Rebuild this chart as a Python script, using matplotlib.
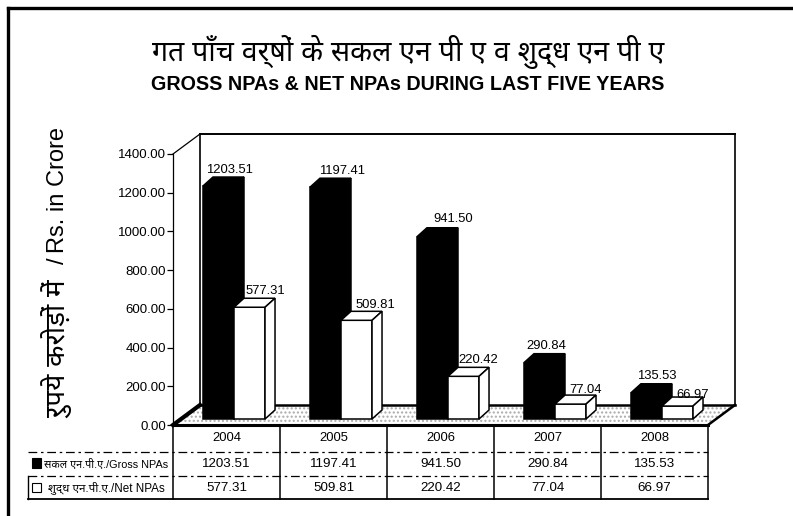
import matplotlib
matplotlib.use("Agg")
import matplotlib.pyplot as plt
from matplotlib.lines import Line2D
from matplotlib.patches import Polygon, Rectangle

years = ["2004", "2005", "2006", "2007", "2008"]
gross = [1203.51, 1197.41, 941.50, 290.84, 135.53]
net = [577.31, 509.81, 220.42, 77.04, 66.97]
yticks = [0, 200, 400, 600, 800, 1000, 1200, 1400]
title_hi = "गत पाँच वर्षों के सकल एन पी ए व शुद्ध एन पी ए"
title_en = "GROSS NPAs & NET NPAs DURING LAST FIVE YEARS"
ylabel_hi = "रुपये करोड़ों में"
ylabel_en = "Rs. in Crore"
gross_label = "सकल एन.पी.ए./Gross NPAs"
net_label = "शुद्ध एन.पी.ए./Net NPAs"

W, H = 793, 516
plt.rcParams["font.family"] = ["Liberation Sans", "Noto Sans", "DejaVu Sans"]


def px_rect(left, top, right, bottom):
    return [left / W, 1 - bottom / H, (right - left) / W, (bottom - top) / H]


fig = plt.figure(figsize=(W / 100, H / 100), dpi=100)
ax = fig.add_axes(px_rect(173, 154, 708, 425))
ax.set_xlim(-0.5, 4.5)
ax.set_ylim(0, 1400)
for s in ["top", "right", "bottom"]:
    ax.spines[s].set_visible(False)
ax.spines["left"].set_linewidth(0.9)
ax.set_xticks([])
ax.set_yticks(yticks)
ax.set_yticklabels([f"{v:.2f}" for v in yticks], fontsize=9.5)
ax.tick_params(axis="y", length=4, width=0.9, pad=1)
ax.patch.set_alpha(0)

# depth of the fake 3d box, in data units
box_dx = 27 / 107
box_dy = 20 / (271 / 1400)
# depth of a bar and how far it stands in from the front of the floor
bar_dx = 10 / 107
bar_dy = 9 / (271 / 1400)
base = 31
bar_w = 0.29

# floor
ax.add_patch(Polygon([(-0.5, 0), (-0.5 + box_dx, box_dy), (4.5 + box_dx, box_dy), (4.5, 0)],
                     closed=True, facecolor="white", edgecolor="#aaaaaa", hatch="....",
                     lw=0, clip_on=False, zorder=1))
ax.plot([-0.5 + box_dx, 4.5 + box_dx], [box_dy, box_dy], color="black", lw=1.8, clip_on=False, zorder=2)
ax.plot([-0.5, 4.5], [0, 0], color="black", lw=2.2, clip_on=False, zorder=2)
ax.plot([4.5, 4.5 + box_dx], [0, box_dy], color="black", lw=1.8, clip_on=False, zorder=2)
ax.plot([-0.5, -0.5 + box_dx], [0, box_dy], color="black", lw=3, clip_on=False, zorder=2)

# back wall
ax.plot([-0.5, -0.5 + box_dx], [1400, 1400 + box_dy], color="black", lw=0.9, clip_on=False, zorder=2)
ax.plot([-0.5 + box_dx, -0.5 + box_dx], [box_dy, 1400 + box_dy], color="black", lw=1.2, clip_on=False, zorder=2)
ax.plot([-0.5 + box_dx, 4.5 + box_dx], [1400 + box_dy, 1400 + box_dy], color="black", lw=1.4, clip_on=False, zorder=2)
ax.plot([4.5 + box_dx, 4.5 + box_dx], [box_dy, 1400 + box_dy], color="black", lw=1.2, clip_on=False, zorder=2)


def draw_bars(values, offset, face, edge, zorder, shift_x, shift_y):
    lefts = [i + offset for i in range(len(values))]
    ax.bar(lefts, values, width=bar_w, bottom=base, align="edge", color=face,
           edgecolor=edge, lw=1.1, zorder=zorder, clip_on=False)
    for x0, v, sx, sy in zip(lefts, values, shift_x, shift_y):
        x1 = x0 + bar_w
        top = v + base
        ax.add_patch(Polygon([(x0, top), (x0 + bar_dx, top + bar_dy), (x1 + bar_dx, top + bar_dy), (x1, top)],
                             closed=True, facecolor=face, edgecolor=edge, lw=1.1,
                             zorder=zorder, clip_on=False))
        ax.add_patch(Polygon([(x1, base), (x1 + bar_dx, base + bar_dy), (x1 + bar_dx, top + bar_dy), (x1, top)],
                             closed=True, facecolor=face, edgecolor=edge, lw=1.1,
                             zorder=zorder, clip_on=False))
        ax.annotate(f"{v:.2f}", ((x0 + x1 + bar_dx) / 2, top + bar_dy), xytext=(sx, sy),
                    textcoords="offset points", ha="center", va="bottom", fontsize=9.4,
                    zorder=6, annotation_clip=False)


draw_bars(gross, -0.22, "black", "black", 3, [4, 8, 11, 1, 4], [1, 1, 2, 1, 1])
draw_bars(net, 0.07, "white", "black", 4, [8, 10, 7, 7, 7], [1, 0, 1, -1, -3])

# table under the chart, y runs in pixels from the top of the table
tab = fig.add_axes(px_rect(28, 425, 708, 499))
tab.set_xlim(-0.5 - 145 / 107, 4.5)
tab.set_ylim(74, 0)
tab.axis("off")
for i in range(len(years) + 1):
    tab.plot([i - 0.5, i - 0.5], [0, 74], color="black", lw=1.1, clip_on=False)
tab.plot([-0.5 - 145 / 107, 4.5], [27, 27], color="black", lw=0.9, ls=(0, (7, 3, 2, 3)), clip_on=False)
tab.plot([-0.5 - 145 / 107, 4.5], [51, 51], color="black", lw=0.9, ls=(0, (7, 3, 2, 3)), clip_on=False)
tab.plot([-0.5 - 145 / 107, 4.5], [74, 74], color="black", lw=1.3, clip_on=False)
tab.plot([-0.5 - 145 / 107] * 2, [51, 74], color="black", lw=1.0, clip_on=False)
for i, (yr, g, n) in enumerate(zip(years, gross, net)):
    tab.text(i, 13, yr, ha="center", va="center", fontsize=9.4)
    tab.text(i, 39, f"{g:.2f}", ha="center", va="center", fontsize=9.6)
    tab.text(i, 63, f"{n:.2f}", ha="center", va="center", fontsize=9.6)
tab.add_patch(Rectangle((-1.82, 33), 0.09, 10, facecolor="black", edgecolor="black", lw=0.8, clip_on=False))
tab.add_patch(Rectangle((-1.82, 58), 0.09, 9, facecolor="white", edgecolor="black", lw=0.8, clip_on=False))
tab.text(-0.55, 39, gross_label, ha="right", va="center", fontsize=7.8)
tab.text(-0.58, 63, net_label, ha="right", va="center", fontsize=8.4)

# titles and y label
fig.text(408 / W, 1 - 52 / H, title_hi, ha="center", va="center", fontsize=20.5, fontweight="bold")
fig.text(408 / W, 1 - 85 / H, title_en, ha="center", va="center", fontsize=14.2, fontweight="bold")
fig.text(58 / W, 1 - 190 / H, ylabel_en, ha="center", va="center", rotation=90, fontsize=17)
fig.text(58 / W, 1 - 261 / H, "/", ha="center", va="center", rotation=90, fontsize=17)
fig.text(58 / W, 1 - 349 / H, ylabel_hi, ha="center", va="center", rotation=90, fontsize=20)

# page rule
fig.add_artist(Line2D([8 / W, 8 / W], [0, 1 - 8 / H], color="black", lw=2.4))
fig.add_artist(Line2D([8 / W, 1], [1 - 8 / H, 1 - 8 / H], color="black", lw=2.4))

fig.savefig("out.png", dpi=100)
